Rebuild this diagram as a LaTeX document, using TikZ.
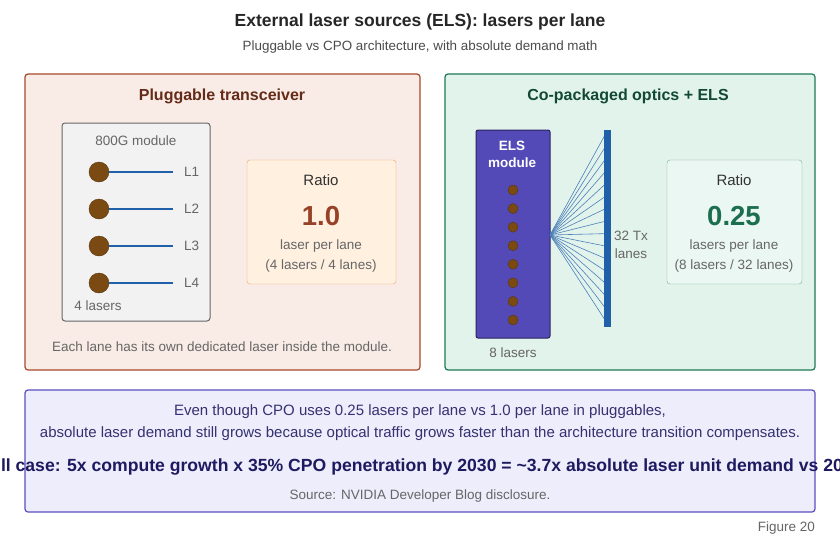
\documentclass[tikz,border=0pt]{standalone}
\usepackage{fontspec}
\setmainfont{Liberation Sans}
\usetikzlibrary{positioning}
\definecolor{lasBrown}{HTML}{7B4A12}
\definecolor{laneBlue}{HTML}{2060A8}
\definecolor{grayTxt}{HTML}{666666}
\definecolor{plugFill}{HTML}{F9ECE6}
\definecolor{plugLine}{HTML}{A8482A}
\definecolor{cpoFill}{HTML}{E2F3EC}
\definecolor{cpoLine}{HTML}{1E7A56}
\definecolor{elsFill}{HTML}{534AB8}
\definecolor{noteFill}{HTML}{EDEDFC}
\definecolor{noteLine}{HTML}{5A4FC0}
\definecolor{noteTxt}{HTML}{1E1A60}
\tikzset{
  panel/.style={draw, rounded corners=3pt, line width=1.2pt},
  txt/.style={font=\fontsize{13.5}{16}\selectfont, text=grayTxt, inner sep=0pt},
  bigno/.style={font=\bfseries\fontsize{27.5}{30}\selectfont, inner sep=0pt},
  laser/.style={circle, fill=lasBrown, draw=lasBrown!70!black, inner sep=0pt},
}
\begin{document}
\begin{tikzpicture}[x=1pt, y=-1pt]
  \useasboundingbox (0,0) rectangle (840,543);
  \clip (0,0) rectangle (840,543);
  \fill[white] (0,0) rectangle (840,543);

  % Title
  \node[font=\bfseries\fontsize{17.5}{20}\selectfont, text=black!85] (title) at (420,22) {External laser sources (ELS): lasers per lane};
  \node[txt, font=\fontsize{13.4}{16}\selectfont, text=black!70] (subtitle) at (420,47) {Pluggable vs CPO architecture, with absolute demand math};

  % Left panel: pluggable
  \draw[panel, fill=plugFill, draw=plugLine] (25,74) rectangle (420,370);
  \node[font=\bfseries\fontsize{16}{19}\selectfont, text=plugLine!60!black] (plugT) at (222,96) {Pluggable transceiver};
  \draw[rounded corners=3pt, line width=1pt, fill=black!5, draw=black!60] (62,123) rectangle (210,321);
  \node[txt] (mod) at (136,141) {800G module};
  \foreach \i/\y in {1/172,2/209,3/246,4/283}{
    \node[laser, minimum size=20pt] (p\i) at (99,\y) {};
    \coordinate (e\i) at (173,\y);
    \draw[laneBlue, line width=1.4pt] (p\i) -- (e\i);
    \node[txt, right=11pt of e\i] (l\i) {L\i};
  }
  \node[txt] (plas) at (98,306) {4 lasers};
  \draw[rounded corners=3pt, fill=orange!12, draw=orange!50!brown!70] (247,160) rectangle (396,284);
  \node[txt, font=\fontsize{15}{17}\selectfont, text=black!80] (pr) at (321,180) {Ratio};
  \node[bigno, text=plugLine!90!black] (pv) at (321,216) {1.0};
  \node[txt] (pu) at (321,246) {laser per lane};
  \node[txt] (pd) at (321,266) {(4 lasers / 4 lanes)};
  \node[txt] (pcap) at (222,347) {Each lane has its own dedicated laser inside the module.};

  % Right panel: CPO + ELS
  \draw[panel, fill=cpoFill, draw=cpoLine] (445,74) rectangle (815,370);
  \node[font=\bfseries\fontsize{16}{19}\selectfont, text=cpoLine!60!black] (cpoT) at (628,96) {Co-packaged optics + ELS};
  \draw[rounded corners=2pt, line width=1pt, fill=elsFill, draw=elsFill!50!black] (476,130) rectangle (550,338);
  \node[font=\bfseries\fontsize{13.5}{17}\selectfont, text=white, align=center] (els) at (512,154) {ELS\\module};
  \foreach \k in {0,...,7}{
    \node[laser, minimum size=10pt] (d\k) at (513,190+18.57*\k) {};
  }
  \node[txt] (clas) at (513,353) {8 lasers};
  \coordinate (src) at (550,235);
  \foreach \k in {0,...,15}{
    \coordinate (t\k) at (605,135+12.33*\k);
    \draw[laneBlue!80, line width=0.6pt] (src) -- (t\k);
  }
  \fill[laneBlue] (604,130) rectangle (611,327);
  \node[txt, align=center, font=\fontsize{13.5}{18}\selectfont] (tx) at (631,245) {32 Tx\\lanes};
  \draw[rounded corners=3pt, fill=cpoFill!70!white, draw=cpoLine!60] (667,160) rectangle (802,284);
  \node[txt, font=\fontsize{15}{17}\selectfont, text=black!80] (cr) at (734,180) {Ratio};
  \node[bigno, text=cpoLine!90!black] (cv) at (734,216) {0.25};
  \node[txt] (cu) at (734,246) {lasers per lane};
  \node[txt] (cd) at (734,266) {(8 lasers / 32 lanes)};

  % Bottom note
  \draw[panel, fill=noteFill, draw=noteLine] (25,390) rectangle (815,512);
  \node[txt, font=\fontsize{15}{17}\selectfont, text=noteTxt!90] (n1) at (420,412) {Even though CPO uses 0.25 lasers per lane vs 1.0 per lane in pluggables,};
  \node[txt, font=\fontsize{15}{17}\selectfont, text=noteTxt!90] (n2) at (420,434) {absolute laser demand still grows because optical traffic grows faster than the architecture transition compensates.};
  \node[font=\bfseries\fontsize{17.6}{21}\selectfont, text=noteTxt, inner sep=0pt] (n3) at (420,467) {Bull case: 5x compute growth x 35\% CPO penetration by 2030 = \textasciitilde3.7x absolute laser unit demand vs 2025};
  \node[txt] (src2) at (420,496) {Source: NVIDIA Developer Blog disclosure.};
  \node[txt, anchor=east] (fig) at (815,528) {Figure 20};
\end{tikzpicture}
\end{document}
